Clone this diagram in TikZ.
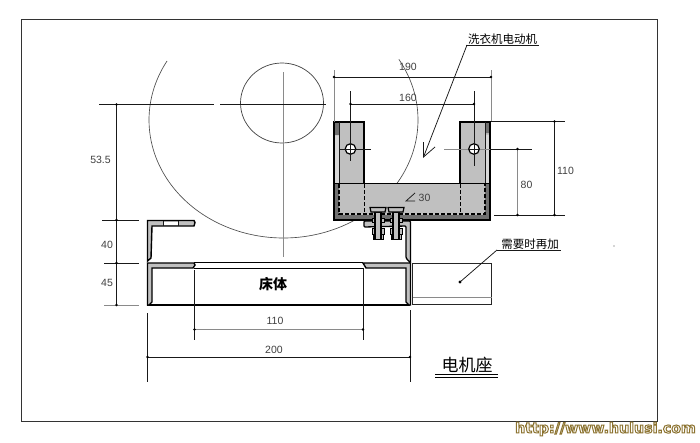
\documentclass[tikz,border=0pt]{standalone}
\usepackage{fontspec}
\setmainfont{Liberation Sans}
\newfontfamily\cjk{Noto Sans CJK SC}
\newfontfamily\wmfont{DejaVu Sans}
\definecolor{fillgray}{HTML}{C0C0C0}
\definecolor{darkgray}{HTML}{707070}
\definecolor{linegray}{HTML}{8A8A8A}
\tikzset{
  thin line/.style={draw=black!90,line width=0.75pt},
  gray line/.style={draw=linegray,line width=1pt},
  heavy/.style={draw=black,line width=1.4pt},
  dimlabel/.style={font=\fontsize{10.5}{12}\selectfont,text=black!75,inner sep=0pt},
  cjklabel/.style={font=\cjk\fontsize{11.5}{13}\selectfont,inner sep=0pt},
}
\begin{document}
\begin{tikzpicture}[x=1pt,y=-1pt]
\useasboundingbox (0,0) rectangle (700,442);
\fill[white] (0,0) rectangle (700,442);
% frame
\draw[draw=black!80,line width=1pt] (21,19.5) rectangle (657,421.5);
% centre circle and big arc
\draw[draw=black!75,line width=0.7pt] (282,103) ellipse[x radius=41.5,y radius=40];
\draw[draw=black!70,line width=0.65pt] plot[domain=-31:210,samples=120,smooth] ({283.5+134.5*cos(\x)},{120+118*sin(\x)});
\draw[gray line] (283,72) -- (283,257);
\draw[thin line] (99,104) -- (214,104);
\draw[thin line] (220,104) -- (326,104);
% left dimensions
\draw[thin line] (116.5,104) -- (116.5,305);
\draw[thin line] (102,220) -- (139,220);
\draw[thin line] (104,263) -- (139,263);
\draw[gray line] (104,305) -- (139,305);
\foreach \p in {104.5,220,263,305} \fill (116.5,\p) circle[radius=1.4];
\node[dimlabel] at (100.5,160) {53.5};
\node[dimlabel] at (107,244.5) {40};
\node[dimlabel] at (107,283) {45};
% bed frame
\draw[heavy] (194,262.5) -- (363,262.5);
\draw[heavy] (194,268.5) -- (363,268.5);
\draw[heavy] (147,305) -- (410,305);
\draw[heavy,fill=fillgray] (194,220.5) -- (147.5,220.5) -- (147.5,261) -- (151,258) -- (152,226) -- (194,226) -- (195,222.5) -- cycle;
\fill[white] (164,221.5) rectangle (178,225);
\draw[thin line] (163.5,221) -- (163.5,226) (178,221) -- (178,226);
\draw[heavy,fill=fillgray] (147.5,263) -- (194,263) -- (195,265) -- (193,268) -- (152,268) -- (152,302) -- (149,305) -- (147.5,305) -- cycle;
\draw[heavy,fill=fillgray] (410.5,263) -- (363,263) -- (366,268) -- (406,268) -- (406,302) -- (409,305) -- (410.5,305) -- cycle;
% bed dimensions
\draw[thin line] (194.5,270) -- (194.5,340);
\draw[thin line] (363,268) -- (363,340);
\draw[gray line] (194.5,329.5) -- (363,329.5);
\fill (194.5,329.5) circle[radius=1.3] (363,329.5) circle[radius=1.3];
\draw[thin line] (147,313) -- (147,382);
\draw[thin line] (410.5,310) -- (410.5,382);
\draw[thin line] (147,357) -- (410.5,357);
\fill (147.5,357) circle[radius=1.3] (410,357) circle[radius=1.3];
\node[dimlabel] at (275,321) {110};
\node[dimlabel] at (274,350) {200};
\node[font=\cjk\bfseries\fontsize{14}{16}\selectfont,inner sep=0pt] at (273,284.5) {床体};
% motor seat
\fill[fillgray] (334,122) rectangle (364,184) (460,122) rectangle (490,184) (334,183) rectangle (490,220);
\fill[fillgray!60] (334,135) rectangle (339,183) (485,135) rectangle (490,183);
\fill[darkgray] (334,122) rectangle (339,135) (486,122) rectangle (490,133);
\fill[darkgray] (334,183) rectangle (339,220) (485,183) rectangle (490,220) (334,215) rectangle (490,220);
\draw[heavy] (364,183) -- (364,122) -- (334,122) -- (334,220) -- (490,220) -- (490,122) -- (460,122) -- (460,183);
\draw[draw=black,line width=0.9pt] (334,183) -- (490,183);
\draw[thin line] (339,122) -- (339,183) (485,122) -- (485,183);
\draw[draw=black,line width=1.1pt,dash pattern=on 4pt off 2pt] (339,184) -- (339,214) -- (485,214) -- (485,184);
\draw[draw=black,line width=1pt,dash pattern=on 4pt off 2pt] (364,184) -- (364,214) (460.5,184) -- (460.5,214);
% motor centre lines
\draw[thin line] (350.5,91) -- (350.5,161) (474,91) -- (474,166);
\draw[thin line] (340,149) -- (371,149);
\draw[gray line] (444,149) -- (490,149);
\draw[thin line] (490,149) -- (532,149);
\draw[draw=black,line width=1.2pt,fill=white] (350.5,149) circle[radius=5.3];
\draw[draw=black,line width=1.2pt,fill=white] (474,149) circle[radius=5.3];
\draw[thin line] (350.5,143) -- (350.5,155) (345,149) -- (356,149) (474,143) -- (474,155) (468,149) -- (480,149);
% top dimensions
\draw[gray line] (334,70) -- (334,122) (491,70) -- (491,122);
\draw[thin line] (334,77) -- (491,77);
\draw[thin line] (350.5,104) -- (474,104);
\fill (334,77) circle[radius=1.3] (491,77) circle[radius=1.3] (350.5,104) circle[radius=1.3] (474,104) circle[radius=1.3];
\node[dimlabel] at (408,67) {190};
\node[dimlabel] at (408,98) {160};
% right dimensions
\draw[thin line] (491,121.5) -- (565,121.5);
\draw[thin line] (494,215) -- (565,215);
\draw[thin line] (554.5,121.5) -- (554.5,215);
\draw[gray line] (517.5,149) -- (517.5,215);
\fill (554.5,121.5) circle[radius=1.3] (554.5,215) circle[radius=1.3] (517.5,149) circle[radius=1.3] (517.5,215) circle[radius=1.3];
\node[dimlabel] at (565.5,171) {110};
\node[dimlabel] at (526.5,184.5) {80};
% weld mark
\draw[thin line] (415,193) -- (406,201) -- (415,201);
\node[dimlabel] at (424.5,198) {30};
% upper bracket
\draw[draw=black,line width=1.3pt,fill=fillgray,rounded corners=1pt] (364,227) -- (364,221) -- (410.5,221) -- (410.5,263) -- (406,258) -- (406,226) -- cycle;
% bolts
\foreach \bx in {378,396}{
  \draw[draw=black,line width=1pt,fill=fillgray] (\bx-6,228) rectangle (\bx+6,234);
  \draw[draw=black,line width=1pt,fill=fillgray] (\bx-5,234) rectangle (\bx+5,239);
  \draw[draw=black,line width=1pt,fill=fillgray] (\bx-6,218) rectangle (\bx+6,222);
  \draw[draw=black,line width=1.2pt,fill=fillgray] (\bx-3,212) rectangle (\bx+3,239.5);
  \draw[draw=black,line width=1.2pt,fill=fillgray] (\bx-8,207.5) -- (\bx+8,207.5) -- (\bx+7,212) -- (\bx-7,212) -- cycle;
}
% optional box
\draw[draw=black!85,line width=0.8pt] (412.5,263.5) rectangle (491.5,304.5);
\draw[gray line] (412.5,297.5) -- (491.5,297.5);
% leaders
\coordinate (motortip) at (423.5,157);
\node[cjklabel,anchor=south] (motorlabel) at (502.5,45) {洗衣机电动机};
\draw[thin line] (466,45) -- (539,45);
\draw[thin line] (467,45) -- (motortip);
\draw[thin line] (423.5,142) -- (motortip) -- (435,147);
\node[cjklabel,anchor=south] (extralabel) at (530,249.5) {需要时再加};
\draw[thin line] (497,250) -- (561,250);
\coordinate (extradot) at (460,282);
\draw[thin line] (497,250) -- (extradot);
\fill (extradot) circle[radius=1.6];
\fill[black!70] (614,246) circle[radius=0.6];
% title
\node[font=\cjk\fontsize{17}{19}\selectfont,inner sep=0pt] (title) at (467,365) {电机座};
\draw[draw=black,line width=0.9pt] (435,374) -- (498,374);
\draw[draw=black,line width=0.9pt] (435,377.5) -- (498,377.5);
% watermark
\node[inner sep=0pt,anchor=west,font=\wmfont\bfseries\fontsize{14.2}{16}\selectfont] at (515,429)
  {\special{pdf:code q 1 Tr 1 w 0.55 0.45 0.19 RG 0.96 0.94 0.82 rg}http://www.hulusi.com\special{pdf:code Q}};
\end{tikzpicture}
\end{document}
